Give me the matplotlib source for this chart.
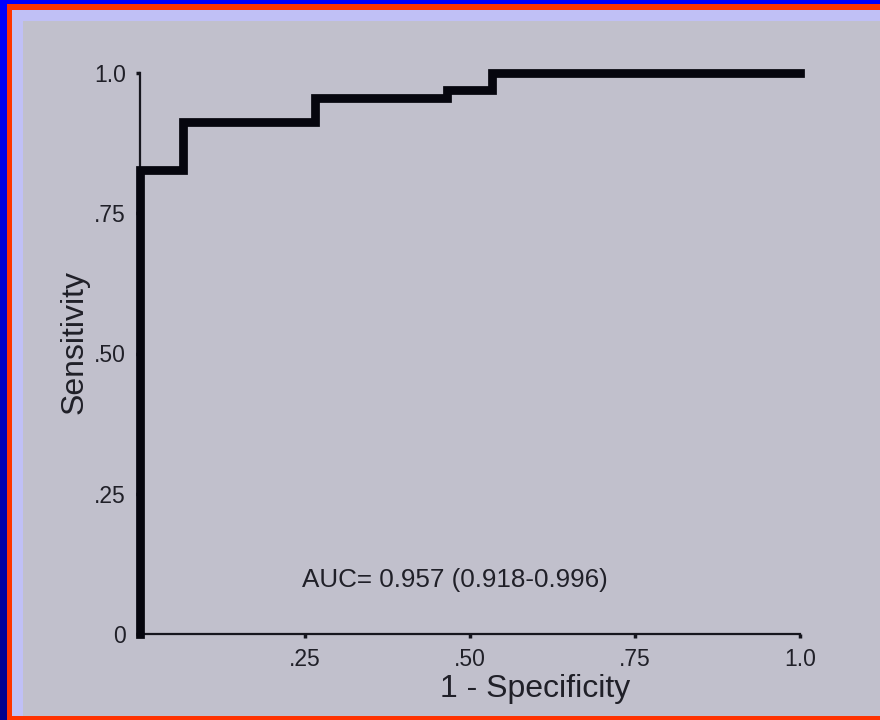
import matplotlib
matplotlib.use("Agg")
import matplotlib.pyplot as plt
import numpy as np
from matplotlib.patches import Rectangle
from matplotlib.colors import LinearSegmentedColormap

plt.rcParams['font.family'] = ['Liberation Sans', 'DejaVu Sans']

# ROC data (1 - specificity, sensitivity)
fpr = [0.0, 0.0, 0.065, 0.265, 0.465, 0.533, 1.0]
tpr = [0.0, 0.827, 0.913, 0.955, 0.970, 1.0, 1.0]
xticks = [0.25, 0.50, 0.75, 1.0]
xticklabels = ['.25', '.50', '.75', '1.0']
yticks = [0.0, 0.25, 0.50, 0.75, 1.0]
yticklabels = ['0', '.25', '.50', '.75', '1.0']
auc_text = 'AUC= 0.957 (0.918-0.996)'

W, H = 880, 720
fig = plt.figure(figsize=(W / 100, H / 100), dpi=100)

# background: blue gradient, red border, lavender frame, gray panel
bg = fig.add_axes([0, 0, 1, 1])
bg.set_axis_off()
grad = np.linspace(0, 1, 256).reshape(-1, 1)
cmap = LinearSegmentedColormap.from_list('b', ['#0000ff', '#00008c'])
bg.imshow(grad, aspect='auto', cmap=cmap, extent=[0, W, H, 0])
bg.set_xlim(0, W)
bg.set_ylim(H, 0)
bg.add_patch(Rectangle((7, 4), W, H, color='#ff3300', lw=0))
bg.add_patch(Rectangle((12, 10), W, 706, color='#c0c0f6', lw=0))
bg.add_patch(Rectangle((23, 21), W, 695, color='#c1c0cc', lw=0))

ax = fig.add_axes([140 / W, 86 / H, 660 / W, 561 / H])
ax.patch.set_alpha(0)
ax.plot(fpr, tpr, drawstyle='steps-post', color='#06060e', lw=6.3,
        solid_joinstyle='miter', clip_on=False, zorder=5)
ax.set_xlim(0, 1)
ax.set_ylim(0, 1)
for s in ['top', 'right']:
    ax.spines[s].set_visible(False)
for s in ['left', 'bottom']:
    ax.spines[s].set_linewidth(1.6)
    ax.spines[s].set_color('#16161e')
ax.set_xticks(xticks)
ax.set_xticklabels(xticklabels)
ax.set_yticks(yticks)
ax.set_yticklabels(yticklabels)
ax.tick_params(axis='both', length=3, width=2.5, color='#16161e',
               labelsize=16.5, labelcolor='#202028', pad=7)

ax.set_xlabel('1 - Specificity', fontsize=23, color='#202028')
ax.xaxis.set_label_coords(0.598, -0.072)
ax.set_ylabel('Sensitivity', fontsize=23, color='#202028')
ax.yaxis.set_label_coords(-0.076, 0.52)

ax.text(0.477, 0.096, auc_text, fontsize=18.7, color='#202028',
        ha='center', va='center', transform=ax.transAxes)

fig.savefig('out.png', dpi=100)
